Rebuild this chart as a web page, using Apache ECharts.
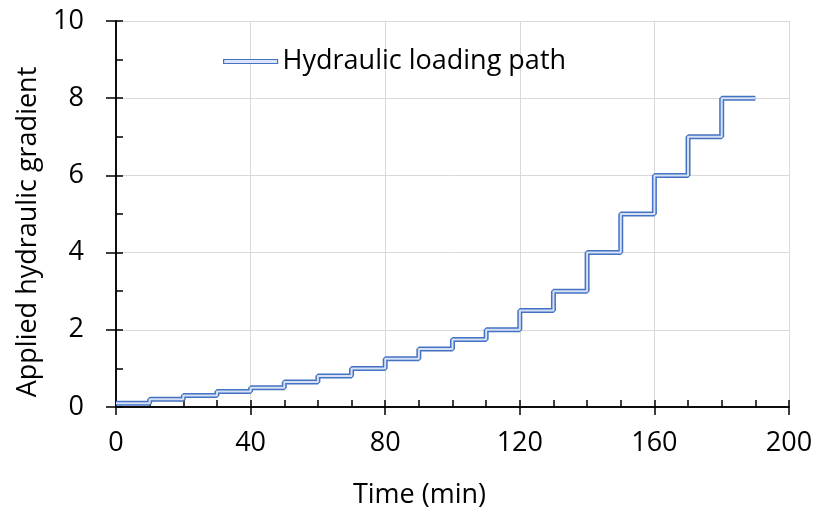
<!DOCTYPE html>
<html>
<head>
<meta charset="utf-8">
<script src="https://cdn.jsdelivr.net/npm/echarts@6/dist/echarts.min.js"></script>
<style>
html,body{margin:0;padding:0;background:#fff;}
#chart{width:816px;height:514px;}
</style>
</head>
<body>
<div id="chart"></div>
<script>
// Time (min) at each step start, and applied hydraulic gradient
const times = [0,10,20,30,40,50,60,70,80,90,100,110,120,130,140,150,160,170,180,190];
const gradient = [0.1,0.2,0.3,0.4,0.5,0.65,0.8,1.0,1.25,1.5,1.75,2.0,2.5,3,4,5,6,7,8,8];
const seriesName = 'Hydraulic loading path';
const xTitle = 'Time (min)';
const yTitle = 'Applied hydraulic gradient';

const FONT = 'Open Sans';
const FS = 27;
const data = times.map((t, i) => [t, gradient[i]]);

const chart = echarts.init(document.getElementById('chart'), null, {renderer: 'canvas'});
const axisCommon = {
  axisLine: {show: true, lineStyle: {color: '#000', width: 1.5}},
};
chart.setOption({
  animation: false,
  backgroundColor: '#fff',
  grid: {left: 116, top: 21, right: 27, bottom: 105, containLabel: false},
  legend: {
    data: [{name: seriesName, icon: 'rect', itemStyle: {color: '#dbe5f6', borderColor: '#4472C4', borderWidth: 1.2}}],
    left: 218, top: 43,
    itemWidth: 54, itemHeight: 4, itemGap: 5,
    textStyle: {fontFamily: FONT, fontSize: FS, color: '#000'}
  },
  xAxis: [
    Object.assign({}, axisCommon, {
      type: 'value', min: 0, max: 200, interval: 40, position: 'bottom',
      axisTick: {show: true, inside: false, length: 8, lineStyle: {color: '#000', width: 1.5}},
      axisLabel: {fontFamily: FONT, fontSize: FS, color: '#000', margin: 23},
      splitLine: {show: true, lineStyle: {color: '#d9d9d9', width: 1}},
      name: xTitle, nameLocation: 'middle', nameGap: 75,
      nameTextStyle: {fontFamily: FONT, fontSize: FS, color: '#000', padding: [0, 66, 0, 0]}
    }),
    Object.assign({}, axisCommon, {
      type: 'value', min: 0, max: 200, interval: 40, position: 'bottom',
      axisTick: {show: true, inside: true, length: 7, lineStyle: {color: '#000', width: 1.5}},
      minorTick: {show: true, splitNumber: 4, length: 7, lineStyle: {color: '#000', width: 1.5}},
      axisLabel: {show: false},
      splitLine: {show: false}
    })
  ],
  yAxis: [
    Object.assign({}, axisCommon, {
      type: 'value', min: 0, max: 10, interval: 2, position: 'left',
      axisTick: {show: true, inside: false, length: 10, lineStyle: {color: '#000', width: 1.5}},
      axisLabel: {fontFamily: FONT, fontSize: FS, color: '#000', margin: 32},
      splitLine: {show: true, lineStyle: {color: '#d9d9d9', width: 1}},
      name: yTitle, nameLocation: 'middle', nameGap: 72,
      nameTextStyle: {fontFamily: FONT, fontSize: FS, color: '#000', padding: [0, 36, 0, 0]}
    }),
    Object.assign({}, axisCommon, {
      type: 'value', min: 0, max: 10, interval: 2, position: 'left',
      axisTick: {show: true, inside: true, length: 7, lineStyle: {color: '#000', width: 1.5}},
      minorTick: {show: true, splitNumber: 2, length: 7, lineStyle: {color: '#000', width: 1.5}},
      axisLabel: {show: false},
      splitLine: {show: false}
    })
  ],
  series: [
    {
      name: seriesName, type: 'line', step: 'end', data: data,
      showSymbol: false, symbol: 'none', z: 3,
      lineStyle: {color: '#4472C4', width: 5}, itemStyle: {color: '#4472C4'}
    },
    {
      name: seriesName + ' (inner)', type: 'line', step: 'end', data: data,
      showSymbol: false, symbol: 'none', z: 4, silent: true,
      lineStyle: {color: '#d6e1f3', width: 2}, itemStyle: {color: '#d6e1f3'}
    }
  ]
});
</script>
</body>
</html>
